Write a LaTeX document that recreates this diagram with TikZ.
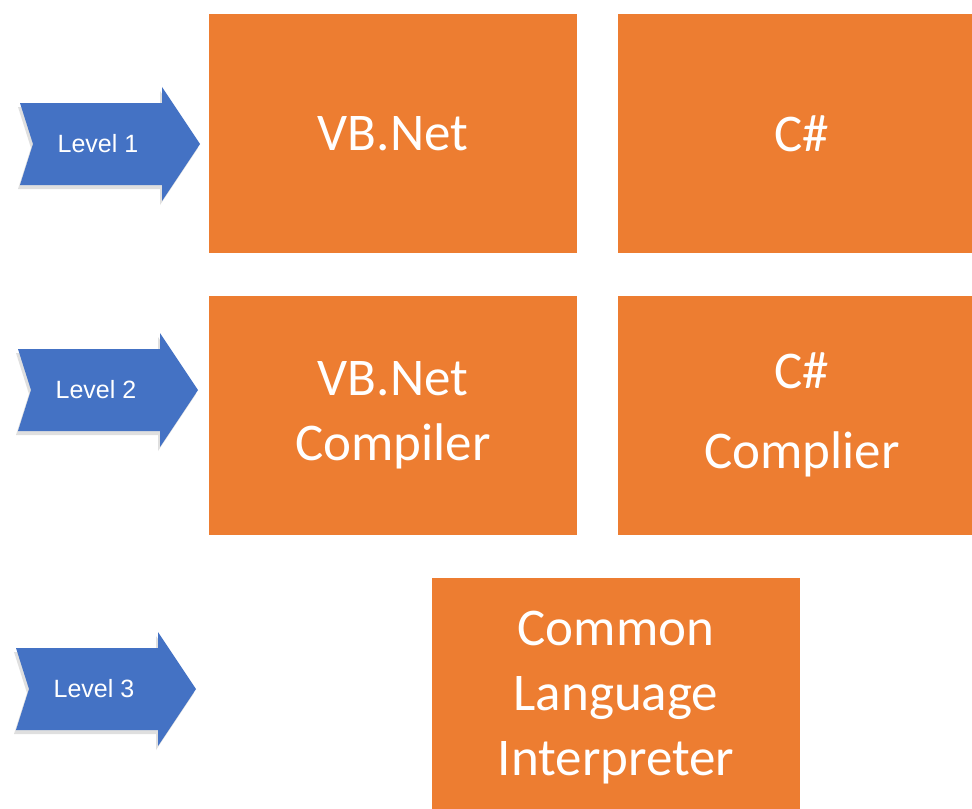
\documentclass[tikz,border=0pt]{standalone}
\usepackage{fontspec}
\setmainfont{Carlito}
\newfontfamily\levelfont{Liberation Sans}
\usetikzlibrary{positioning, shadows}

\definecolor{boxorange}{HTML}{ED7D31}
\definecolor{arrowblue}{HTML}{4472C4}

\tikzset{
  langbox/.style={fill=boxorange, text=white, align=center, inner sep=0pt,
    minimum width=184pt, minimum height=119.5pt,
    font=\fontsize{26.5}{32.5}\selectfont},
  pics/levelarrow/.style={code={
    \fill[arrowblue, drop shadow={shadow xshift=-1pt, shadow yshift=-2pt, opacity=0.25}]
      (-90,-41) -- (52,-41) -- (52,-57) -- (90,0) -- (52,57) -- (52,41)
      -- (-90,41) -- (-77,0) -- cycle;
    \node[text=white, font=\levelfont\fontsize{12.5}{15}\selectfont] (-txt) at (-12,0) {#1};
  }}
}

\begin{document}
\begin{tikzpicture}[x=0.5pt, y=-0.5pt]
        \useasboundingbox (0,0) rectangle (972,808);
        \clip (0,0) rectangle (972,808);
        \fill[white] (0,0) rectangle (972,808);
        %---------------------------
        \node[langbox] (vbnet) at (393,133.5) {VB.Net};
        \node[langbox, right=20pt of vbnet] (csharp) {C\#};
        \node[langbox, below=21pt of vbnet] (vbcomp) {VB.Net\\Compiler};
        \node[langbox, below=21pt of csharp] (cscomp) {C\#\\[7.5pt]Complier};
        \node[langbox, below=21pt of vbcomp, xshift=111.5pt] (clr) {Common\\Language\\Interpreter};
        %---------------------------
        \pic (lv1) at (110,144) {levelarrow=Level 1};
        \pic (lv2) at (108,390) {levelarrow=Level 2};
        \pic (lv3) at (106,689) {levelarrow=Level 3};
\end{tikzpicture}
\end{document}
